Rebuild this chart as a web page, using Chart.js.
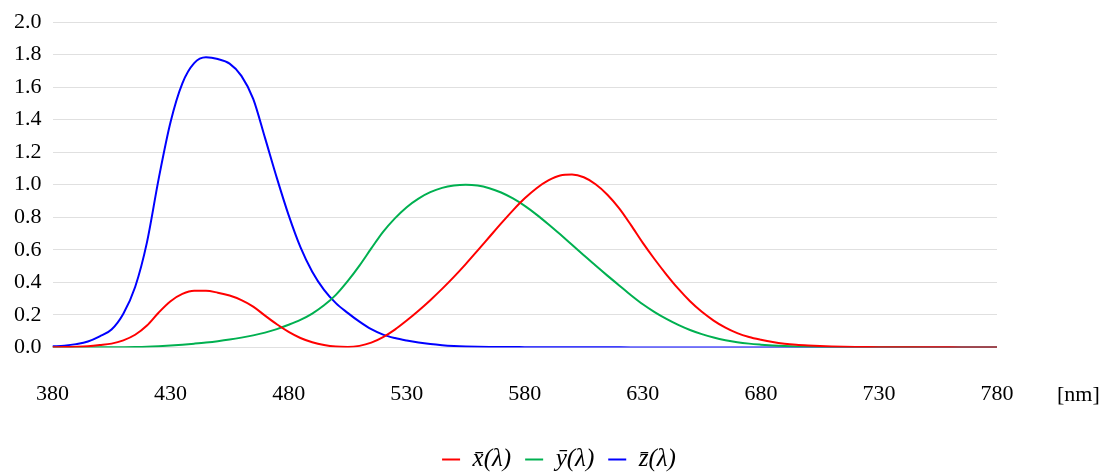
<!DOCTYPE html>
<html>
<head>
<meta charset="utf-8">
<script src="https://cdn.jsdelivr.net/npm/chart.js@4"></script>
<style>
  html, body { margin: 0; padding: 0; background: #fff; }
  #wrap { width: 1115px; height: 472px; }
</style>
</head>
<body>
<div id="wrap"><canvas id="cmf"></canvas></div>
<script>
// wavelength samples, 5 nm steps
const wavelengths = [];
for (let w = 380; w <= 780; w += 5) wavelengths.push(w);

const xBar = [0.001368, 0.002236, 0.004243, 0.00765, 0.01431, 0.02319, 0.04351, 0.07763, 0.13438, 0.21477,
  0.2839, 0.3285, 0.34828, 0.34806, 0.3362, 0.3187, 0.2908, 0.2511, 0.19536, 0.1421,
  0.09564, 0.05795, 0.03201, 0.0147, 0.0049, 0.0024, 0.0093, 0.0291, 0.06327, 0.1096,
  0.1655, 0.22575, 0.2904, 0.3597, 0.43345, 0.51205, 0.5945, 0.6784, 0.7621, 0.8425,
  0.9163, 0.9786, 1.0263, 1.0567, 1.0622, 1.0456, 1.0026, 0.9384, 0.85445, 0.7514,
  0.6424, 0.5419, 0.4479, 0.3608, 0.2835, 0.2187, 0.1649, 0.1212, 0.0874, 0.0636,
  0.04677, 0.0329, 0.0227, 0.01584, 0.011359, 0.008111, 0.00579, 0.004109, 0.002899, 0.002049,
  0.00144, 0.001, 0.00069, 0.000476, 0.000332, 0.000235, 0.000166, 0.000117, 0.000083, 0.000059, 0.000042];

const yBar = [0.000039, 0.000064, 0.00012, 0.000217, 0.000396, 0.00064, 0.00121, 0.00218, 0.004, 0.0073,
  0.0116, 0.01684, 0.023, 0.0298, 0.038, 0.048, 0.06, 0.0739, 0.09098, 0.1126,
  0.13902, 0.1693, 0.20802, 0.2586, 0.323, 0.4073, 0.503, 0.6082, 0.71, 0.7932,
  0.862, 0.91485, 0.954, 0.9803, 0.99495, 1.0, 0.995, 0.9786, 0.952, 0.9154,
  0.87, 0.8163, 0.757, 0.6949, 0.631, 0.5668, 0.503, 0.4412, 0.381, 0.321,
  0.265, 0.217, 0.175, 0.1382, 0.107, 0.0816, 0.061, 0.04458, 0.032, 0.0232,
  0.017, 0.01192, 0.00821, 0.005723, 0.004102, 0.002929, 0.002091, 0.001484, 0.001047, 0.00074,
  0.00052, 0.000361, 0.000249, 0.000172, 0.00012, 0.000085, 0.00006, 0.000042, 0.00003, 0.000021, 0.000015];

const zBar = [0.00645, 0.01055, 0.02005, 0.03621, 0.06785, 0.1102, 0.2074, 0.3713, 0.6456, 1.03905,
  1.3856, 1.62296, 1.74706, 1.7826, 1.77211, 1.7441, 1.6692, 1.5281, 1.28764, 1.0419,
  0.81295, 0.6162, 0.46518, 0.3533, 0.272, 0.2123, 0.1582, 0.1117, 0.07825, 0.05725,
  0.04216, 0.02984, 0.0203, 0.0134, 0.00875, 0.00575, 0.0039, 0.00275, 0.0021, 0.0018,
  0.00165, 0.0014, 0.0011, 0.001, 0.0008, 0.0006, 0.00034, 0.00024, 0.00019, 0.0001,
  0.00005, 0.00003, 0.00002, 0.00001, 0, 0, 0, 0, 0, 0,
  0, 0, 0, 0, 0, 0, 0, 0, 0, 0,
  0, 0, 0, 0, 0, 0, 0, 0, 0, 0, 0];

const seriesNames = ['x\u0304(\u03bb)', 'y\u0304(\u03bb)', 'z\u0304(\u03bb)'];
const seriesColors = ['#ff0000', '#00b050', '#0000ff'];

const FONT = "'Liberation Serif', 'DejaVu Serif', serif";
const TICK_PAD = 30;

function toPoints(vals) {
    return wavelengths.map((w, i) => ({ x: w, y: vals[i] }));
}

// "[nm]" unit text to the right of the x tick labels
const unitLabel = {
    id: 'unitLabel',
    afterDraw(chart) {
        const { ctx, scales: { x } } = chart;
        ctx.save();
        ctx.font = `22px ${FONT}`;
        ctx.fillStyle = '#000';
        ctx.textAlign = 'left';
        ctx.textBaseline = 'middle';
        ctx.fillText('[nm]', 1057, x.top + TICK_PAD + 18);
        ctx.restore();
    }
};

const data = [xBar, yBar, zBar];

new Chart(document.getElementById('cmf'), {
    type: 'line',
    data: {
        datasets: data.map((vals, i) => ({
            label: seriesNames[i],
            data: toPoints(vals),
            borderColor: seriesColors[i],
            backgroundColor: seriesColors[i],
            borderWidth: 2,
            pointRadius: 0,
            cubicInterpolationMode: 'monotone'
        }))
    },
    options: {
        responsive: true,
        maintainAspectRatio: false,
        animation: false,
        layout: { padding: { left: 3, right: 0, top: 0, bottom: -10 } },
        scales: {
            x: {
                type: 'linear',
                min: 380,
                max: 780,
                grid: { display: false },
                border: { display: false },
                ticks: {
                    stepSize: 50,
                    padding: TICK_PAD,
                    maxRotation: 0,
                    color: '#000',
                    font: { family: FONT, size: 22, lineHeight: 0.8 }
                }
            },
            y: {
                min: 0,
                max: 2.0,
                grid: { color: '#e0e0e0', drawTicks: false },
                border: { display: false },
                ticks: {
                    stepSize: 0.2,
                    padding: 11,
                    color: '#000',
                    font: { family: FONT, size: 22, lineHeight: 1.0 },
                    callback: v => v.toFixed(1)
                }
            },
            // empty right-hand axis that only reserves room for "[nm]"
            yRight: {
                position: 'right',
                min: 0,
                max: 2.0,
                grid: { display: false },
                border: { display: false },
                ticks: { display: false },
                afterFit: scale => { scale.width = 118; }
            }
        },
        plugins: {
            legend: {
                position: 'bottom',
                labels: {
                    usePointStyle: true,
                    pointStyle: 'line',
                    pointStyleWidth: 18,
                    padding: 14,
                    color: '#000',
                    font: { family: FONT, size: 25, style: 'italic' }
                }
            },
            tooltip: { enabled: false }
        }
    },
    plugins: [unitLabel]
});
</script>
</body>
</html>
